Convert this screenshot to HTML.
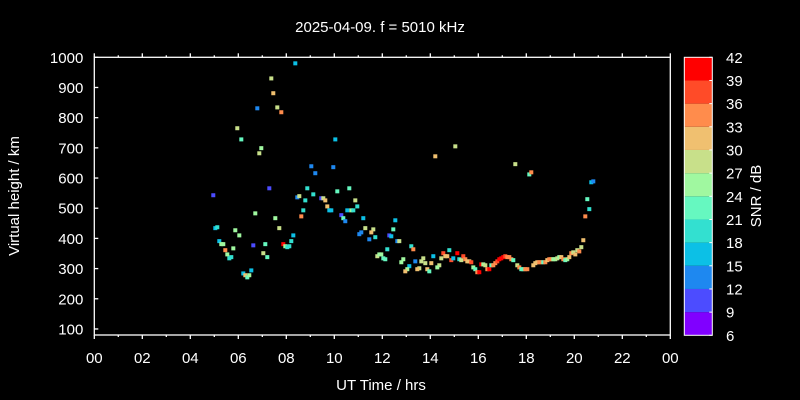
<!DOCTYPE html>
<html><head><meta charset="utf-8"><style>
html,body{margin:0;padding:0;background:#000;}
svg{display:block;font-family:"Liberation Sans",sans-serif;}
</style></head><body>
<svg id="chart" width="800" height="400" viewBox="0 0 800 400">
<rect x="0" y="0" width="800" height="400" fill="#000"/>
<text x="380" y="32" fill="#fff" font-size="15" text-anchor="middle">2025-04-09. f = 5010 kHz</text>
<g id="axes"></g>
<g id="marks"></g>
<g id="cbar"></g>
<text x="381" y="390" fill="#fff" font-size="15" text-anchor="middle">UT Time / hrs</text>
<text transform="translate(19,196) rotate(-90)" fill="#fff" font-size="15" text-anchor="middle">Virtual height / km</text>
<text transform="translate(761,196) rotate(-90)" fill="#fff" font-size="15" text-anchor="middle">SNR / dB</text>
</svg>
<script>
const hours=[8.375,7.375,7.458,6.792,7.625,7.792,5.958,6.125,10.042,6.958,6.875,9.042,9.958,9.208,7.292,4.958,8.875,10.125,10.625,9.125,8.458,8.542,8.792,9.458,9.542,9.625,9.708,8.708,9.792,9.875,10.542,8.625,10.292,10.375,10.458,6.708,7.542,7.708,5.042,5.125,5.875,6.042,8.292,5.208,5.292,5.375,8.208,6.625,7.125,7.875,7.958,8.042,8.125,5.792,5.458,5.542,7.042,5.625,5.708,7.208,6.542,6.208,6.292,6.375,6.458,
15.042,14.208,17.542,18.125,18.208,20.708,20.792,10.875,10.958,10.708,10.792,11.208,12.542,20.542,20.625,20.458,11.292,11.625,11.542,11.125,11.042,12.458,11.708,11.458,12.292,12.375,12.625,12.708,20.375,12.208,13.208,13.292,14.792,14.542,15.125,20.292,20.125,20.208,19.875,19.958,20.042,11.792,11.875,11.958,12.042,12.125,12.875,12.792,13.125,13.042,12.958,13.375,13.708,13.625,13.792,14.042,14.125,13.542,13.458,13.875,13.958,14.375,14.292,14.458,14.625,14.708,14.875,14.958,15.208,15.292,15.375,15.458,15.542,15.625,15.708,15.792,15.875,15.958,16.042,16.125,16.208,16.292,16.375,16.458,
16.542,16.625,16.708,16.792,16.875,16.958,17.042,17.125,17.208,17.292,17.375,17.458,17.625,17.708,17.792,17.875,17.958,18.042,
18.292,18.375,18.458,18.542,18.625,18.708,18.792,18.875,18.958,19.042,19.125,19.208,19.292,19.375,19.458,19.542,19.625,19.708,19.792];
const heights=[980,930,881,831,834,818,765,728,728,699,682,639,636,616,566,543,566,556,566,546,536,540,526,533,533,526,506,493,493,493,493,473,477,467,457,483,467,434,434,437,427,410,410,391,381,381,391,377,381,381,374,371,374,367,361,347,351,334,338,338,294,284,278,271,278,
705,672,646,612,619,586,589,526,506,493,493,467,460,530,497,473,434,430,420,420,414,430,404,397,410,407,391,391,394,364,374,364,361,351,351,371,361,357,351,354,347,341,347,347,334,331,331,321,308,298,291,324,334,324,318,318,341,301,298,298,291,311,304,334,341,341,328,334,331,328,341,331,324,324,321,304,298,288,288,314,314,311,298,298,
311,311,318,324,331,334,338,341,338,338,331,328,311,304,298,298,298,298,
311,318,321,321,321,321,321,328,331,331,331,331,334,338,338,331,328,331,338];
const snr=[16,28,32,13,28,35,28,22,16,25,28,13,13,13,10,10,19,22,22,19,13,28,19,10,28,32,32,19,16,16,16,35,10,22,13,25,25,28,16,19,25,25,16,16,25,25,19,10,22,41,25,19,19,25,35,25,28,19,19,22,16,16,32,22,25,
28,32,28,22,35,16,13,28,19,25,19,16,16,22,19,35,28,28,32,13,13,22,19,13,10,16,13,28,32,19,19,35,19,37,41,28,28,35,35,28,32,28,25,25,22,22,25,25,16,25,32,13,28,28,28,32,16,28,32,32,22,28,25,28,32,32,37,16,19,28,37,35,32,32,37,25,22,35,41,41,25,28,35,41,
22,35,35,37,41,41,41,37,35,35,35,22,28,35,22,22,35,35,
32,32,32,35,35,22,35,32,35,35,25,25,28,25,32,35,22,25,32];
const yTicks=[100,200,300,400,500,600,700,800,900,1000];
const xTicks=["00","02","04","06","08","10","12","14","16","18","20","22","00"];
const cbTicks=[6,9,12,15,18,21,24,27,30,33,36,39,42];
const cbColors=["#8000ff","#4c4cff","#1e88f0","#0cc0e6","#33e0d0","#66f8c0","#a0f8a0","#c8e08a","#f0c070","#ff8c4c","#ff4b28","#ff0000"];

const NS="http://www.w3.org/2000/svg";
const X0=94.3,X1=670.3,Y0=57.3,Y1=335;
const xs=h=>X0+(h/24)*(X1-X0);
const ys=v=>Y0+(1000-v)/(1000-80)*(Y1-Y0);
const CB0=684.3,CB1=712.3;
const cs=v=>Y1+0.3-(v-6)/36*(Y1+0.3-Y0);
function mk(tag,parent,attrs){const e=document.createElementNS(NS,tag);for(const k in attrs)e.setAttribute(k,attrs[k]);parent.appendChild(e);return e;}
const axes=document.getElementById('axes'),marks=document.getElementById('marks'),cbar=document.getElementById('cbar');

const frame=mk('rect',axes,{x:X0,y:Y0,width:X1-X0,height:Y1-Y0,fill:'none',stroke:'#fff','stroke-width':1.3});


yTicks.forEach(v=>{
  const y=ys(v);
  const t=mk('line',axes,{x1:X0,x2:X0+4,y1:y,y2:y,stroke:'#fff','stroke-width':1.3});
  
  
  const l=mk('text',axes,{x:X0-11,y:y+5.5,fill:'#fff','font-size':15,'text-anchor':'end'});
  l.textContent=v;
  
  
});
for(let h=0;h<=24;h++){
  const x=xs(h),len=h%2===0?4:2;
  [[Y1,Y1+len],[Y0,Y0-len]].forEach(p=>{
    const t=mk('line',axes,{x1:x,x2:x,y1:p[0],y2:p[1],stroke:'#fff','stroke-width':1.3});
    
    
  });
}
xTicks.forEach((s,i)=>{
  const l=mk('text',axes,{x:xs(i*2),y:363,fill:'#fff','font-size':15,'text-anchor':'middle'});
  l.textContent=s;
  
  
});
function colorFor(v){let i=Math.floor((v-6)/3);if(i<0)i=0;if(i>11)i=11;return cbColors[i];}
hours.forEach((h,i)=>{
  const r=mk('rect',marks,{x:xs(h)-2,y:ys(heights[i])-2,width:4,height:4,fill:colorFor(snr[i])});
  
  
});
cbColors.forEach((c,i)=>{
  const yt=cs(cbTicks[i+1]),yb=cs(cbTicks[i]);
  const r=mk('rect',cbar,{x:CB0,y:yt,width:CB1-CB0,height:yb-yt,fill:c});
  
  
});
const cbf=mk('rect',cbar,{x:CB0,y:Y0,width:CB1-CB0,height:Y1+0.3-Y0,fill:'none',stroke:'#fff','stroke-width':1});


cbTicks.forEach(v=>{
  const y=cs(v);
  const t=mk('line',cbar,{x1:CB1-3,x2:CB1,y1:y,y2:y,stroke:'#fff','stroke-width':1});
  
  
  const l=mk('text',cbar,{x:726,y:y+5.5,fill:'#fff','font-size':15});
  l.textContent=v;
  
  
});
</script>
</body></html>
